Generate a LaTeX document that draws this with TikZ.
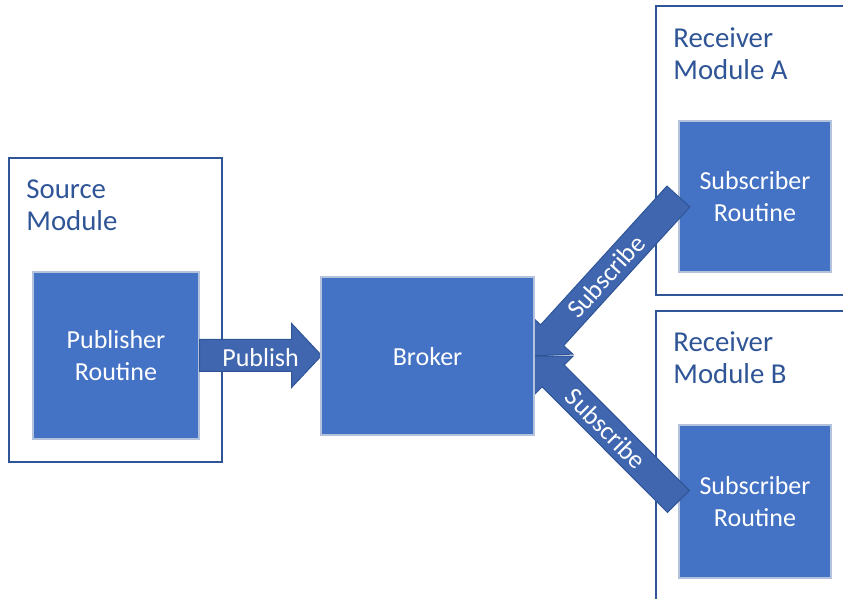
\documentclass[tikz,border=0pt]{standalone}
\usepackage{fontspec}
\setmainfont{Carlito}
\usetikzlibrary{calc}
\definecolor{boxblue}{HTML}{4472C4}
\definecolor{boxedge}{HTML}{B4C2DC}
\definecolor{darkblue}{HTML}{2F5597}
\definecolor{arrowblue}{HTML}{3F66AE}

\tikzset{
  routine/.style={draw=boxedge, fill=boxblue, line width=0.6pt, text=white,
    align=center, text depth=-2pt, font=\fontsize{13}{16}\selectfont},
  module/.style={draw=darkblue, line width=0.9pt},
  modlabel/.style={text=darkblue, align=left, inner sep=0pt, anchor=north west,
    font=\fontsize{14.4}{16}\selectfont},
  arrowbody/.style={fill=arrowblue, draw=darkblue, line width=0.5pt},
  arrowlabel/.style={text=white, inner sep=0pt, font=\fontsize{13}{16}\selectfont},
  % length / shaft half / head half / head length / text
  pics/blockarrow/.style n args={5}{code={
    \draw[arrowbody] (0,-#2) -- ({#1-#4},-#2) -- ({#1-#4},-#3) -- (#1,0)
      -- ({#1-#4},#3) -- ({#1-#4},#2) -- (0,#2) -- cycle;
    \node[arrowlabel, transform shape] at ({#1/2},0) {#5};
  }}
}

\begin{document}
\begin{tikzpicture}[x=0.5pt, y=-0.5pt]
	\useasboundingbox (0,0) rectangle (843,599);
	\clip (0,0) rectangle (843,599);
	
	%Modules
	\draw[module] (9,158) rectangle (222,462);
	\draw[module] (656,6) rectangle (870,295);
	\draw[module] (656,311) rectangle (870,620);
	\node[modlabel] (srclabel) at (26,179) {Source\\Module};
	\node[modlabel] (recvAlabel) at (673,27) {Receiver\\Module A};
	\node[modlabel] (recvBlabel) at (673,331) {Receiver\\Module B};
	
	%Routines
	\node[routine, minimum width=83pt, minimum height=83.5pt] (pub) at (116,355.5) {Publisher\\Routine};
	\node[routine, minimum width=76pt, minimum height=75.5pt] (subA) at (755,196.5) {Subscriber\\Routine};
	\node[routine, minimum width=76pt, minimum height=76.5pt] (subB) at (755,501.5) {Subscriber\\Routine};
	
	%Block arrows
	\pic[arrowlabel/.append style={yshift=-1pt}] at (pub.east) {blockarrow={122}{16}{32}{30}{Publish}};
	\pic[rotate=227.7, arrowlabel/.append style={rotate=180}] at (subA.west) {blockarrow={215.6}{15.5}{28}{28}{Subscribe}};
	\pic[rotate=134.9, arrowlabel/.append style={rotate=180}] at (subB.west) {blockarrow={205.4}{15.5}{28}{28}{Subscribe}};
	
	%Broker
	\node[routine, minimum width=106.5pt, minimum height=79pt] (broker) at (427.5,356) {Broker};
	
\end{tikzpicture}
\end{document}
